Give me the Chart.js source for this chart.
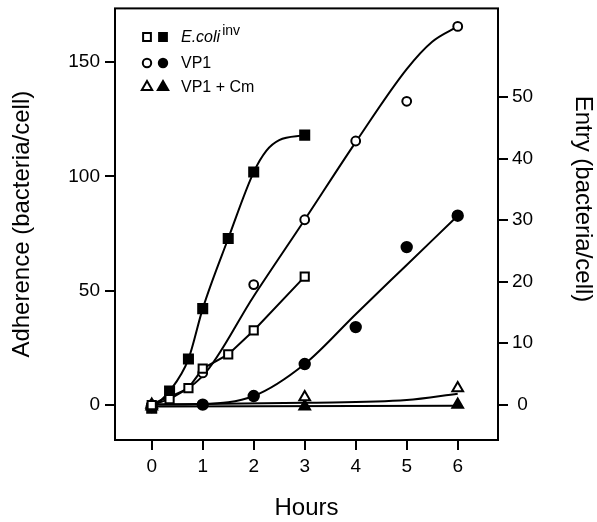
<!DOCTYPE html>
<html>
<head>
<meta charset="utf-8">
<script src="https://cdn.jsdelivr.net/npm/chart.js@4.4.0/dist/chart.umd.min.js"></script>
<style>
  html, body { margin: 0; padding: 0; background: #fff; }
  #wrap { width: 597px; height: 522px; }
</style>
</head>
<body>
<div id="wrap"><canvas id="chart" width="597" height="522"></canvas></div>
<script>
// ---- values ----
// E.coli inv: open squares = adherence (left axis), filled squares = entry (right axis)
const ecoliHours = [0, 0.35, 0.72, 1, 1.5, 2, 3];
const ecoliAdherence = [-0.2, 2.4, 7.2, 15.8, 22.0, 32.5, 56.1];
const ecoliEntry = [-0.6, 2.2, 7.4, 15.6, 27.0, 37.8, 43.8];

// VP1: open circles = adherence, filled circles = entry
const vp1Hours = [0, 1, 2, 3, 4, 5, 6];
const vp1Adherence = [0, 13.9, 52.6, 81.0, 115.5, 132.9, 165.7];
const vp1Entry = [-0.4, 0, 1.4, 6.6, 12.6, 25.6, 30.7];

// VP1 + Cm: open triangles = adherence, filled triangles = entry
const cmHours = [0, 3, 6];
const cmAdherence = [0, 3.3, 7.2];
const cmEntry = [-0.3, -0.3, 0];

// hand-drawn fitted curves
const ecoliEntryFitHours = [0, 0.35, 0.72, 1, 1.5, 2, 2.25, 2.5, 3];
const ecoliEntryFit = [-0.6, 2.2, 7.4, 15.6, 27.0, 37.8, 41.3, 43.0, 43.8];
const vp1AdherenceFitHours = [0, 1, 2, 3, 4, 5, 5.5, 6];
const vp1AdherenceFit = [0, 12.5, 47.5, 81, 115, 147, 159, 165.7];
const vp1EntryFitHours = [0, 1, 2, 3, 4, 5, 6];
const vp1EntryFit = [0, 0.1, 1.4, 6.6, 14.7, 22.7, 30.7];
const cmAdherenceFitHours = [0, 3, 5, 6];
const cmAdherenceFit = [0, 0.8, 2.0, 4.8];
const cmEntryFitHours = [0, 6];
const cmEntryFit = [-0.3, -0.2];

const hourTicks = [0, 1, 2, 3, 4, 5, 6];
const adherenceTicks = [0, 50, 100, 150];
const entryTicks = [0, 10, 20, 30, 40, 50];
const legendLabels = ['E.coli', 'VP1', 'VP1 + Cm'];
const entryTitle = 'Entry (bacteria/cell)';

const FONT = '"Liberation Sans", Arial, Helvetica, sans-serif';
const INK = '#000';

const pts = (xs, ys) => xs.map((x, i) => ({ x, y: ys[i] }));

function markers(xs, ys, axis, style, filled, radius) {
  return {
    data: pts(xs, ys),
    yAxisID: axis,
    order: 0,
    showLine: false,
    pointStyle: style,
    pointRadius: radius,
    pointHoverRadius: radius,
    pointBackgroundColor: filled ? INK : '#fff',
    pointBorderColor: INK,
    pointBorderWidth: 2,
  };
}

function curve(xs, ys, axis, extra) {
  return Object.assign({
    data: pts(xs, ys),
    yAxisID: axis,
    order: 1,
    showLine: true,
    pointRadius: 0,
    pointHoverRadius: 0,
    borderColor: INK,
    borderWidth: 2,
    cubicInterpolationMode: 'monotone',
    fill: false,
  }, extra || {});
}

// legend, frame and right-hand title drawn by hand (italic + superscript label)
function drawMark(ctx, style, x, y, r, filled) {
  ctx.beginPath();
  if (style === 'rect') {
    const s = r * Math.SQRT1_2;
    ctx.rect(x - s, y - s, 2 * s, 2 * s);
  } else if (style === 'circle') {
    ctx.arc(x, y, r, 0, Math.PI * 2);
  } else {
    ctx.moveTo(x, y - r);
    ctx.lineTo(x + r * 0.866, y + r * 0.5);
    ctx.lineTo(x - r * 0.866, y + r * 0.5);
    ctx.closePath();
  }
  ctx.fillStyle = filled ? INK : '#fff';
  ctx.fill();
  ctx.lineWidth = 2;
  ctx.strokeStyle = INK;
  ctx.stroke();
}

const figurePlugin = {
  id: 'figure',
  afterDraw(chart) {
    const { ctx, chartArea: a } = chart;
    ctx.save();
    ctx.strokeStyle = INK;
    ctx.lineWidth = 2;
    ctx.strokeRect(a.left, a.top, a.right - a.left, a.bottom - a.top);

    const styles = ['rect', 'circle', 'triangle'];
    const sizes = [5.5, 4.2, 6];
    const rowY = [37, 63, 87];
    ctx.textBaseline = 'middle';
    styles.forEach((st, i) => {
      drawMark(ctx, st, 147, rowY[i], sizes[i], false);
      drawMark(ctx, st, 163, rowY[i], sizes[i], true);
      ctx.fillStyle = INK;
      ctx.font = (i === 0 ? 'italic ' : '') + '16px ' + FONT;
      ctx.fillText(legendLabels[i], 181, rowY[i] + 1);
      if (i === 0) {
        const w = ctx.measureText(legendLabels[i]).width;
        ctx.font = '14px ' + FONT;
        ctx.fillText('inv', 181 + w + 2, rowY[i] - 6);
      }
    });

    ctx.translate(583, 199);
    ctx.rotate(Math.PI / 2);
    ctx.textAlign = 'center';
    ctx.textBaseline = 'middle';
    ctx.font = '24px ' + FONT;
    ctx.fillText(entryTitle, 0, 0);
    ctx.restore();
  },
};

function noEdgePadding(s) {
  s.paddingTop = 0;
  s.paddingBottom = 0;
  s.paddingLeft = 0;
  s.paddingRight = 0;
}

const tickFont = { family: FONT, size: 19 };
const titleFont = { family: FONT, size: 24, lineHeight: 1 };
const tickGrid = { drawOnChartArea: false, drawTicks: true, tickLength: 10, color: INK, lineWidth: 2 };

new Chart(document.getElementById('chart'), {
  type: 'scatter',
  data: {
    datasets: [
      markers(ecoliHours, ecoliAdherence, 'yA', 'rect', false, 5.8),
      markers(ecoliHours, ecoliEntry, 'yE', 'rect', true, 6.4),
      markers(vp1Hours, vp1Adherence, 'yA', 'circle', false, 4.4),
      markers(vp1Hours, vp1Entry, 'yE', 'circle', true, 5.2),
      markers(cmHours, cmAdherence, 'yA', 'triangle', false, 6.2),
      markers(cmHours, cmEntry, 'yE', 'triangle', true, 6.2),
      curve(ecoliHours, ecoliAdherence, 'yA', { cubicInterpolationMode: 'default', tension: 0 }),
      curve(ecoliEntryFitHours, ecoliEntryFit, 'yE'),
      curve(vp1AdherenceFitHours, vp1AdherenceFit, 'yA'),
      curve(vp1EntryFitHours, vp1EntryFit, 'yE'),
      curve(cmAdherenceFitHours, cmAdherenceFit, 'yA'),
      curve(cmEntryFitHours, cmEntryFit, 'yE'),
    ],
  },
  options: {
    responsive: false,
    animation: false,
    events: [],
    layout: { padding: { top: 7, left: 0, right: 0, bottom: 0 } },
    plugins: { legend: { display: false }, tooltip: { enabled: false } },
    scales: {
      x: {
        type: 'linear',
        min: -0.72,
        max: 6.79,
        afterBuildTicks: (s) => { s.ticks = hourTicks.map((v) => ({ value: v })); },
        afterFit: (s) => { s.height = 82; noEdgePadding(s); },
        grid: tickGrid,
        border: { display: false },
        ticks: { color: INK, font: tickFont, padding: 5, maxRotation: 0, callback: (v) => String(v) },
        title: { display: true, text: 'Hours', color: INK, font: titleFont, padding: { top: 0, bottom: 2 } },
      },
      yA: {
        type: 'linear',
        position: 'left',
        min: -15.5,
        max: 173.6,
        afterBuildTicks: (s) => { s.ticks = adherenceTicks.map((v) => ({ value: v })); },
        afterFit: (s) => { s.width = 115; noEdgePadding(s); },
        grid: tickGrid,
        border: { display: false },
        ticks: { color: INK, font: tickFont, padding: 5, callback: (v) => String(v) },
        title: { display: true, text: 'Adherence (bacteria/cell)', color: INK, font: titleFont, padding: { top: 10, bottom: 0 } },
      },
      yE: {
        type: 'linear',
        position: 'right',
        min: -5.75,
        max: 64.4,
        afterBuildTicks: (s) => { s.ticks = entryTicks.map((v) => ({ value: v })); },
        afterFit: (s) => { s.width = 99; noEdgePadding(s); },
        grid: tickGrid,
        border: { display: false },
        ticks: { color: INK, font: tickFont, padding: 4, crossAlign: 'center', callback: (v) => String(v) },
      },
    },
  },
  plugins: [figurePlugin],
});
</script>
</body>
</html>
